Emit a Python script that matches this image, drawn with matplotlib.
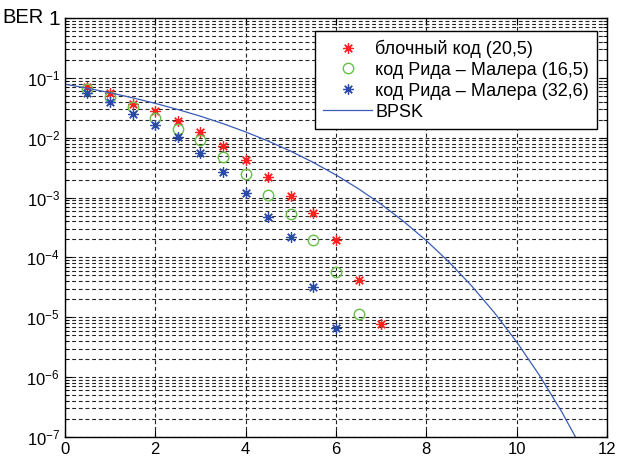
import matplotlib
matplotlib.use("Agg")
import matplotlib.pyplot as plt
from matplotlib.ticker import FixedLocator, FixedFormatter, LogLocator, NullFormatter

plt.rcParams["font.family"] = ["Liberation Sans", "DejaVu Sans"]
plt.rcParams["mathtext.fontset"] = "custom"
plt.rcParams["mathtext.rm"] = "Liberation Sans"
plt.rcParams["mathtext.it"] = "Liberation Sans"

# Eb/N0, dB
snr_codes = [0.5, 1.0, 1.5, 2.0, 2.5, 3.0, 3.5, 4.0, 4.5, 5.0, 5.5, 6.0, 6.5, 7.0]
ber_block_20_5 = [0.0695, 0.055, 0.036, 0.0275, 0.019, 0.0123, 0.0072, 0.0043,
                  0.0022, 0.00107, 0.00056, 0.000195, 4.2e-5, 7.8e-6]
ber_rm_16_5 = [0.066, 0.047, 0.033, 0.0215, 0.014, 0.0090, 0.0047, 0.0025,
               0.00112, 0.00053, 0.000195, 5.8e-5, 1.15e-5]
ber_rm_32_6 = [0.055, 0.040, 0.025, 0.0166, 0.0102, 0.0056, 0.0027, 0.00117,
               0.00048, 0.00022, 3.2e-5, 6.6e-6]

snr_bpsk = [0.0, 0.5, 1.0, 1.5, 2.0, 2.5, 3.0, 3.5, 4.0, 4.5, 5.0, 5.5, 6.0,
            6.5, 7.0, 7.5, 8.0, 8.5, 9.0, 9.5, 10.0, 10.5, 11.0, 11.5]
ber_bpsk = [0.0786, 0.0671, 0.0563, 0.0464, 0.0375, 0.0296, 0.0229, 0.0172,
            0.0125, 0.0088, 0.00595, 0.00386, 0.00239, 0.0014, 0.000773,
            0.000398, 0.000191, 8.4e-5, 3.36e-5, 1.21e-5, 3.87e-6, 1.08e-6,
            2.6e-7, 5.3e-8]

labels = ["блочный код (20,5)", "код Рида – Малера (16,5)",
          "код Рида – Малера (32,6)", "BPSK"]

y_ticks = [1e-7, 1e-6, 1e-5, 1e-4, 1e-3, 1e-2, 1e-1, 1]
y_tick_labels = ["$10^{-7}$", "$10^{-6}$", "$10^{-5}$", "$10^{-4}$",
                 "$10^{-3}$", "$10^{-2}$", "$10^{-1}$", "1"]

fig = plt.figure(figsize=(6.17, 4.61), dpi=100)
ax = fig.add_axes([0.105, 0.052, 0.879, 0.909])

asterisk = (8, 2, 0)
ax.semilogy(snr_codes, ber_block_20_5, linestyle="none", marker=asterisk,
            markersize=7.5, markeredgewidth=0.9, color="#ff2020", label=labels[0])
ax.semilogy(snr_codes[:len(ber_rm_16_5)], ber_rm_16_5, linestyle="none",
            marker="o", markersize=7.5, markerfacecolor="none",
            markeredgecolor="#66c04a", markeredgewidth=1.0, label=labels[1])
ax.semilogy(snr_codes[:len(ber_rm_32_6)], ber_rm_32_6, linestyle="none",
            marker=asterisk, markersize=7.5, markeredgewidth=0.9,
            color="#2a4aa8", label=labels[2])
ax.semilogy(snr_bpsk, ber_bpsk, color="#3a5cb8", linewidth=0.9, label=labels[3])

ax.set_xlim(0, 12)
ax.set_ylim(1e-7, 1)
ax.set_xticks(range(0, 13, 2))
ax.yaxis.set_major_locator(FixedLocator(y_ticks))
ax.yaxis.set_major_formatter(FixedFormatter(y_tick_labels))
ax.yaxis.set_minor_locator(LogLocator(base=10, subs=range(2, 10), numticks=20))
ax.yaxis.set_minor_formatter(NullFormatter())

grid_style = dict(color="#222222", linestyle=(0, (3.5, 2.5)), linewidth=0.8)
ax.grid(True, which="major", axis="both", **grid_style)
ax.grid(True, which="minor", axis="y", **grid_style)

ax.tick_params(which="both", direction="in", labelsize=12, top=True, right=True)
ax.tick_params(which="major", length=5)
ax.tick_params(which="minor", length=3)
for sp in ax.spines.values():
    sp.set_linewidth(1.0)

fig.canvas.draw()
ax.get_yticklabels()[-1].set_fontsize(15)

ax.text(-0.115, 1.0, "BER", transform=ax.transAxes, fontsize=14.5,
        ha="left", va="center")

leg = ax.legend(loc="upper right", bbox_to_anchor=(0.982, 0.968), numpoints=1,
                fontsize=13, fancybox=False, framealpha=1, edgecolor="black",
                handlelength=2.7, handletextpad=0.2, borderpad=0.45,
                labelspacing=0.22, borderaxespad=0)
leg.get_frame().set_linewidth(1.0)

fig.savefig("out.png", dpi=100)
